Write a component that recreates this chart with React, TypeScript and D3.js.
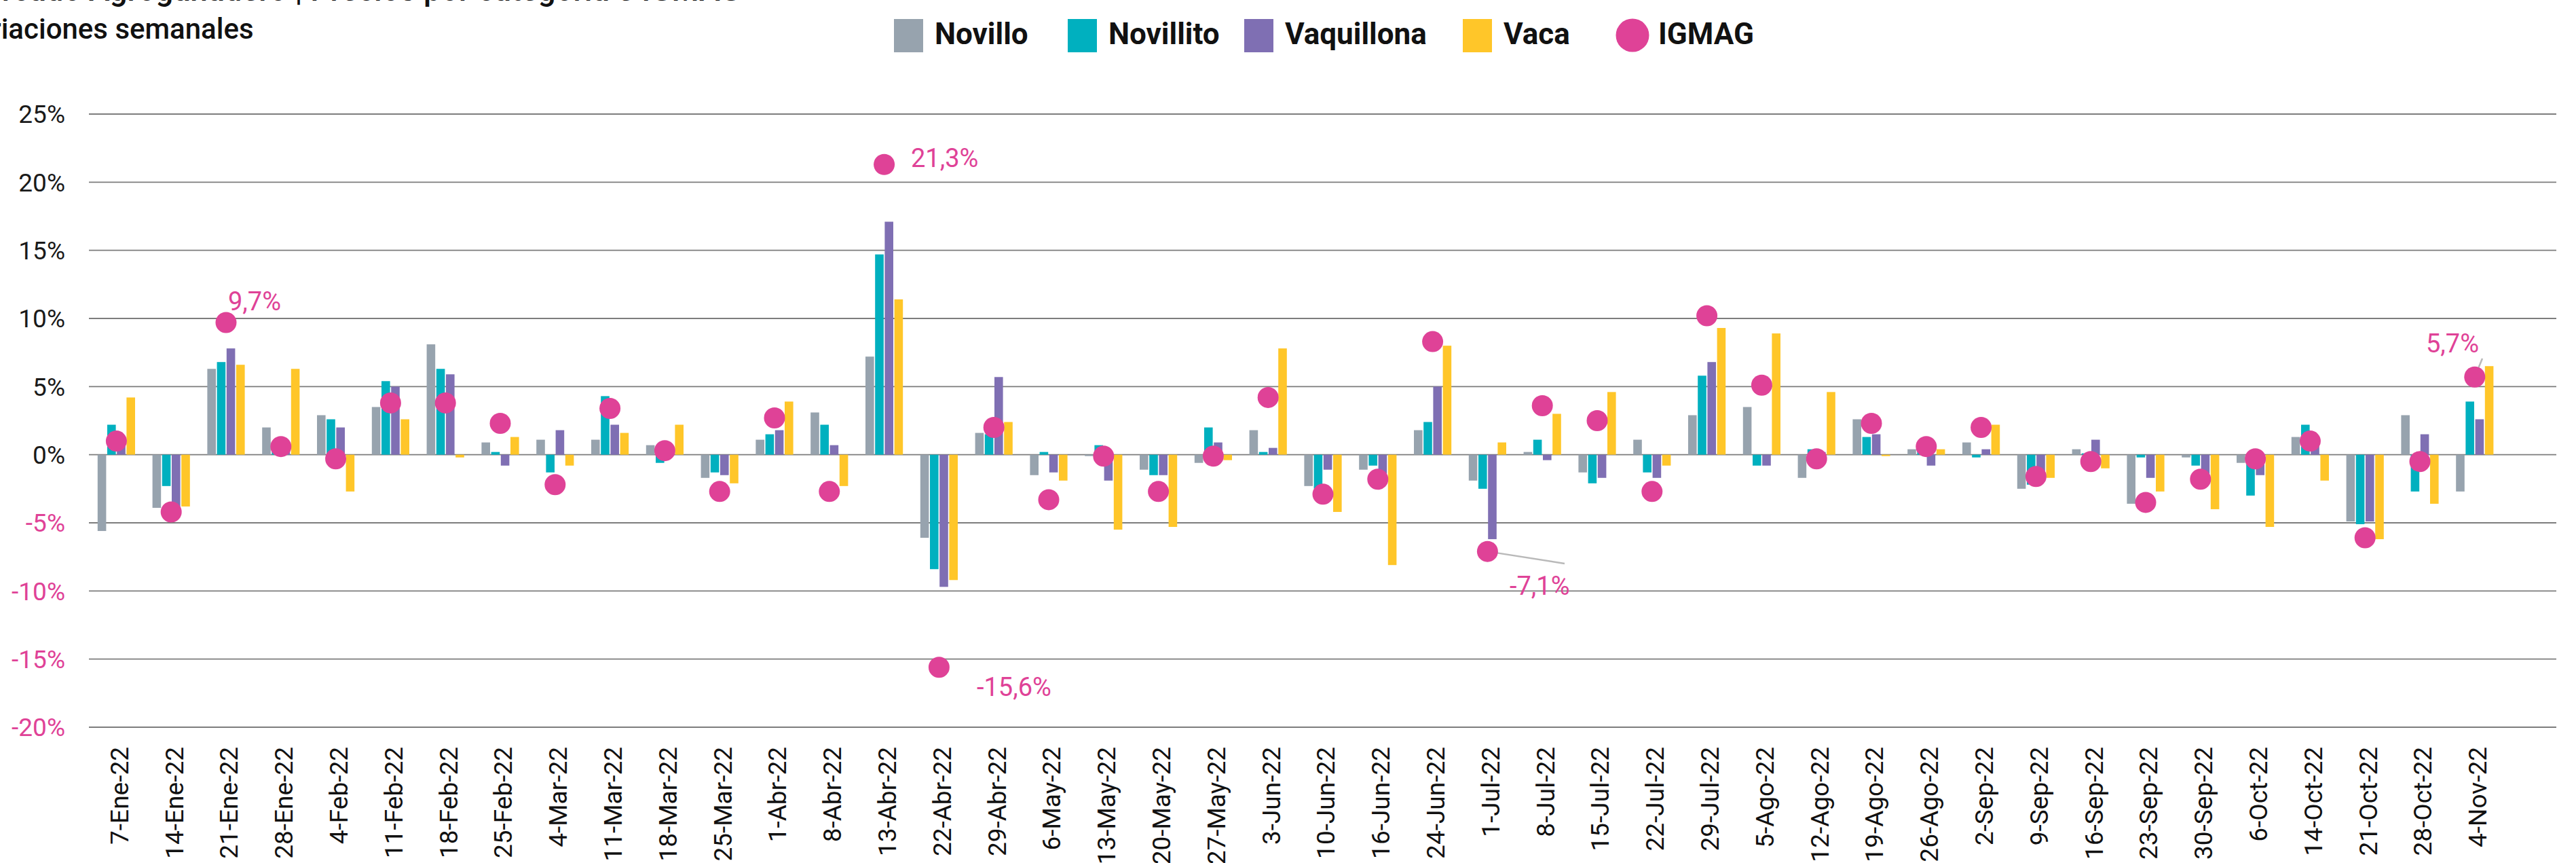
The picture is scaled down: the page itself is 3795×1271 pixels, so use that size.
import React from "react";
import * as d3 from "d3";

const categories = [
  "7-Ene-22", "14-Ene-22", "21-Ene-22", "28-Ene-22", "4-Feb-22", "11-Feb-22",
  "18-Feb-22", "25-Feb-22", "4-Mar-22", "11-Mar-22", "18-Mar-22", "25-Mar-22",
  "1-Abr-22", "8-Abr-22", "13-Abr-22", "22-Abr-22", "29-Abr-22", "6-May-22",
  "13-May-22", "20-May-22", "27-May-22", "3-Jun-22", "10-Jun-22", "16-Jun-22",
  "24-Jun-22", "1-Jul-22", "8-Jul-22", "15-Jul-22", "22-Jul-22", "29-Jul-22",
  "5-Ago-22", "12-Ago-22", "19-Ago-22", "26-Ago-22", "2-Sep-22", "9-Sep-22",
  "16-Sep-22", "23-Sep-22", "30-Sep-22", "6-Oct-22", "14-Oct-22", "21-Oct-22",
  "28-Oct-22", "4-Nov-22",
];

const novillo = [
  -5.6, -3.9, 6.3, 2.0, 2.9, 3.5, 8.1, 0.9, 1.1, 1.1, 0.7, -1.7, 1.1, 3.1, 7.2,
  -6.1, 1.6, -1.5, -0.1, -1.1, -0.6, 1.8, -2.3, -1.1, 1.8, -1.9, 0.2, -1.3, 1.1,
  2.9, 3.5, -1.7, 2.6, 0.4, 0.9, -2.5, 0.4, -3.6, -0.2, -0.6, 1.3, -4.9, 2.9, -2.7,
];
const novillito = [
  2.2, -2.3, 6.8, 0.3, 2.6, 5.4, 6.3, 0.2, -1.3, 4.3, -0.6, -1.3, 1.5, 2.2, 14.7,
  -8.4, 1.5, 0.2, 0.7, -1.5, 2.0, 0.2, -2.5, -0.8, 2.4, -2.5, 1.1, -2.1, -1.3,
  5.8, -0.8, 0.4, 1.3, 0.3, -0.2, -2.2, 0.1, -0.2, -0.8, -3.0, 2.2, -5.1, -2.7, 3.9,
];
const vaquillona = [
  0.9, -4.0, 7.8, 0.5, 2.0, 5.0, 5.9, -0.8, 1.8, 2.2, 0.3, -1.5, 1.8, 0.7, 17.1,
  -9.7, 5.7, -1.3, -1.9, -1.5, 0.9, 0.5, -1.1, -1.4, 5.0, -6.2, -0.4, -1.7, -1.7,
  6.8, -0.8, 0.2, 1.5, -0.8, 0.4, -1.6, 1.1, -1.7, -1.4, -1.5, 1.0, -4.9, 1.5, 2.6,
];
const vaca = [
  4.2, -3.8, 6.6, 6.3, -2.7, 2.6, -0.2, 1.3, -0.8, 1.6, 2.2, -2.1, 3.9, -2.3, 11.4,
  -9.2, 2.4, -1.9, -5.5, -5.3, -0.4, 7.8, -4.2, -8.1, 8.0, 0.9, 3.0, 4.6, -0.8,
  9.3, 8.9, 4.6, -0.1, 0.4, 2.2, -1.7, -1.0, -2.7, -4.0, -5.3, -1.9, -6.2, -3.6, 6.5,
];
const igmag = [
  1.0, -4.2, 9.7, 0.6, -0.3, 3.8, 3.8, 2.3, -2.2, 3.4, 0.3, -2.7, 2.7, -2.7, 21.3,
  -15.6, 2.0, -3.3, -0.1, -2.7, -0.1, 4.2, -2.9, -1.8, 8.3, -7.1, 3.6, 2.5, -2.7,
  10.2, 5.1, -0.3, 2.3, 0.6, 2.0, -1.6, -0.5, -3.5, -1.8, -0.3, 1.0, -6.1, -0.5, 5.7,
];

const yTicks = [25, 20, 15, 10, 5, 0, -5, -10, -15, -20];

const seriesNames = ["Novillo", "Novillito", "Vaquillona", "Vaca"];
const seriesColors = ["#97a3ae", "#00b0bf", "#7f6fb3", "#ffc629"];
const pink = "#df4297";

// labelled IGMAG points (index into categories) and where their text sits
const callouts = [
  { i: 2, x: 336, y: 457 },
  { i: 14, x: 1342, y: 246 },
  { i: 15, x: 1439, y: 1025 },
  { i: 25, x: 2224, y: 876 },
  { i: 43, x: 3574, y: 519 },
];

const W = 3795;
const H = 1271;
const font = "Roboto, 'Noto Sans', sans-serif";

export default function App() {
  const series = [novillo, novillito, vaquillona, vaca];

  const x = d3
    .scaleBand<string>()
    .domain(categories)
    .range([131, 131 + categories.length * 80.8])
    .padding(0);

  const y = d3.scaleLinear().domain([-20, 25]).range([1071, 168]);

  const pitch = 14.2;
  const barW = 12.6;
  const center = (c: string) => (x(c) as number) + x.bandwidth() / 2;

  const legendItems = [
    { name: "Novillo", x: 1317, color: seriesColors[0] },
    { name: "Novillito", x: 1573, color: seriesColors[1] },
    { name: "Vaquillona", x: 1833, color: seriesColors[2] },
    { name: "Vaca", x: 2155, color: seriesColors[3] },
  ];

  return (
    <svg
      width={W}
      height={H}
      style={{ position: "absolute", left: 0, top: 0, background: "#fff" }}
      fontFamily={font}
    >
      {/* title, cut off at the top and left as in the source */}
      <text x={-62} y={1} fontSize={46} fontWeight={500} fill="#111">
        Mercado Agroganadero | Precios por categoría e IGMAG
      </text>
      <text x={-62} y={57} fontSize={42} fontWeight={500} fill="#111">
        Variaciones semanales
      </text>

      {/* legend */}
      {legendItems.map((l) => (
        <g key={l.name}>
          <rect x={l.x} y={28} width={43} height={49} fill={l.color} />
          <text x={l.x + 60} y={65} fontSize={44} fontWeight={700} fill="#111">
            {l.name}
          </text>
        </g>
      ))}
      <circle cx={2405} cy={52} r={24.5} fill={pink} />
      <text x={2443} y={65} fontSize={44} fontWeight={700} fill="#111">
        IGMAG
      </text>

      {/* grid + y labels */}
      {yTicks.map((t) => (
        <g key={t}>
          <line
            x1={131}
            x2={3766}
            y1={y(t)}
            y2={y(t)}
            stroke="#7d7d7d"
            strokeWidth={1.8}
          />
          <text
            x={96}
            y={y(t)}
            dy="0.36em"
            textAnchor="end"
            fontSize={37}
            fill={t < 0 ? pink : "#1a1a1a"}
          >
            {t}%
          </text>
        </g>
      ))}

      {/* bars */}
      {series.map((vals, s) => (
        <g key={seriesNames[s]}>
          {vals.map((v, i) => {
            const cx = center(categories[i]) + (s - 1.5) * pitch;
            return (
              <rect
                key={i}
                x={cx - barW / 2}
                y={y(Math.max(0, v))}
                width={barW}
                height={Math.abs(y(v) - y(0))}
                fill={seriesColors[s]}
              />
            );
          })}
        </g>
      ))}

      {/* leader lines */}
      <line
        x1={center(categories[25])}
        y1={y(igmag[25])}
        x2={2305}
        y2={830}
        stroke="#b9b9b9"
        strokeWidth={2.5}
      />
      <line
        x1={center(categories[43])}
        y1={y(igmag[43])}
        x2={3657}
        y2={528}
        stroke="#b9b9b9"
        strokeWidth={2.5}
      />

      {/* IGMAG dots */}
      {igmag.map((v, i) => (
        <circle key={i} cx={center(categories[i])} cy={y(v)} r={15.5} fill={pink} />
      ))}

      {/* callouts */}
      {callouts.map((c) => (
        <text key={c.i} x={c.x} y={c.y} fontSize={38} fill={pink}>
          {igmag[c.i].toFixed(1).replace(".", ",")}%
        </text>
      ))}

      {/* x labels */}
      {categories.map((c) => (
        <text
          key={c}
          transform={`translate(${center(c) + 4},1100) rotate(-90)`}
          dy="0.36em"
          textAnchor="end"
          fontSize={37}
          fill="#111"
        >
          {c}
        </text>
      ))}
    </svg>
  );
}
